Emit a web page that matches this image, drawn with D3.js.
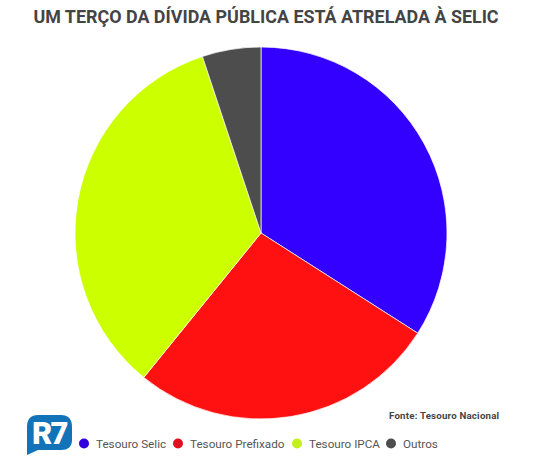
<!DOCTYPE html>
<meta charset="utf-8">
<title>Dívida pública</title>
<style>
html, body { margin: 0; background: #fff; }
text { font-family: Roboto, sans-serif; }
</style>
<svg width="533" height="459"></svg>
<script src="https://d3js.org/d3.v7.min.js"></script>
<script>

var categories = ["Tesouro Selic", "Tesouro Prefixado", "Tesouro IPCA", "Outros"];
var values = [34.05, 26.8, 34.05, 5.1];
var colors = ["#3300ff", "#ff1111", "#ccff00", "#4d4d4d"];
var legendColors = ["#3300dd", "#e01020", "#c4f020", "#4d4d4d"];
var legendX = [84, 178, 297, 391];

var svg = d3.select("svg");

svg.append("text")
    .attr("x", 266)
    .attr("y", 23)
    .attr("text-anchor", "middle")
    .attr("font-size", 17.9)
    .attr("font-weight", 700)
    .attr("fill", "#444")
    .text("UM TERÇO DA DÍVIDA PÚBLICA ESTÁ ATRELADA À SELIC");

var pie = d3.pie().sort(null);
var arc = d3.arc().innerRadius(0).outerRadius(186);

svg.append("g")
    .attr("transform", "translate(261,233)")
  .selectAll("path")
  .data(pie(values))
  .enter().append("path")
    .attr("d", arc)
    .attr("fill", function(d, i) { return colors[i]; })
    .attr("stroke", "#fff")
    .attr("stroke-width", 0.7);

svg.append("text")
    .attr("x", 389)
    .attr("y", 419)
    .attr("font-size", 9.7)
    .attr("font-weight", 700)
    .attr("letter-spacing", 0.2)
    .attr("fill", "#444")
    .text("Fonte: Tesouro Nacional");

// legend
var legend = svg.selectAll("g.legend")
  .data(categories)
  .enter().append("g")
    .attr("class", "legend")
    .attr("transform", function(d, i) { return "translate(" + legendX[i] + ",443.5)"; });

legend.append("circle")
    .attr("r", 5)
    .attr("fill", function(d, i) { return legendColors[i]; });

legend.append("text")
    .attr("x", 12)
    .attr("y", 4)
    .attr("font-size", 11.7)
    .attr("fill", "#555")
    .text(function(d) { return d; });

// R7 logo
var logo = svg.append("g").attr("transform", "translate(26,415)");
logo.append("path")
    .attr("d", "M12,0 H35 Q46,0 46,12 V25 Q46,35 35,35 H12 L1,40 V12 Q1,0 12,0 Z")
    .attr("fill", "#1273b8");
logo.append("text")
    .attr("x", 23.5)
    .attr("y", 29)
    .attr("text-anchor", "middle")
    .attr("font-size", 31)
    .attr("font-weight", 900)
    .attr("fill", "#fff")
    .attr("letter-spacing", -1.5)
    .text("R7");

</script>
